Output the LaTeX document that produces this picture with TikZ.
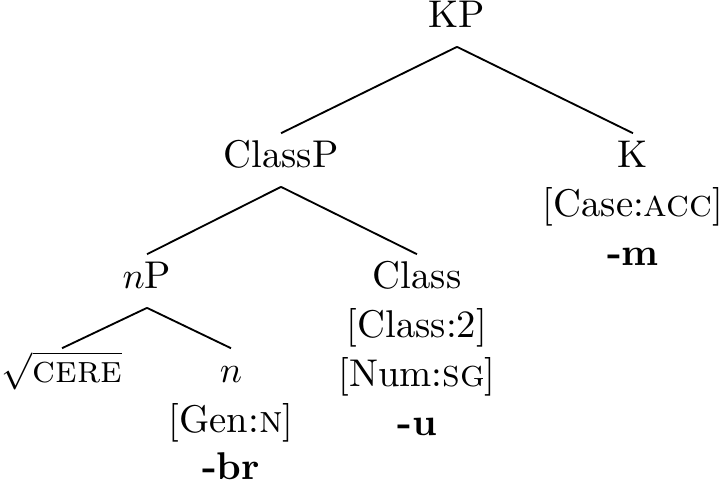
\documentclass[tikz,border=0pt]{standalone}
\begin{document}
\begin{tikzpicture}[x=0.2703pt,y=-0.2703pt,
  every node/.style={font=\fontsize{10.45pt}{12.5pt}\selectfont},
  cat/.style={inner sep=0pt,text height=9.2pt,text depth=4.9pt,anchor=base},
  feat/.style={inner sep=0pt,anchor=base},
  branch/.style={line width=0.5pt}]
\useasboundingbox (0,0) rectangle (723,483);
\node[cat] (KP) at (457,28) {KP};
\node[cat] (ClassP) at (281,168) {ClassP};
\node[cat] (K) at (633,168) {K};
\node[feat] (Kf1) at (633,217) {[Case:\textsc{acc}]};
\node[feat] (Kf2) at (633,266) {\textbf{-m}};
\node[cat] (nP) at (147,289) {$n$P};
\node[cat] (Class) at (417,289) {Class};
\node[feat] (Cf1) at (417,338) {[Class:2]};
\node[feat] (Cf2) at (417,387) {[Num:\textsc{sg}]};
\node[feat] (Cf3) at (417,436) {\textbf{-u}};
\node[cat] (root) at (62,383) {$\sqrt{\textsc{cere}}$};
\node[cat] (n) at (231,383) {$n$};
\node[feat] (nf1) at (231,433) {[Gen:\textsc{n}]};
\node[feat] (nf2) at (231,480) {\textbf{-br}};
\draw[branch] (KP.south) -- (ClassP.north);
\draw[branch] (KP.south) -- (K.north);
\draw[branch] (ClassP.south) -- (nP.north);
\draw[branch] (ClassP.south) -- (Class.north);
\draw[branch] (nP.south) -- (root.north);
\draw[branch] (nP.south) -- (n.north);
\end{tikzpicture}
\end{document}
